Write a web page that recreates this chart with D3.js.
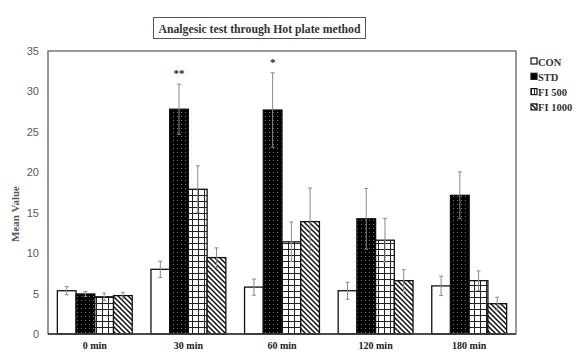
<!DOCTYPE html>
<html>
<head>
<meta charset="utf-8">
<script src="https://cdn.jsdelivr.net/npm/d3@7"></script>
<style>
  body { margin: 0; background: #fff; }
  svg { display: block; }
</style>
</head>
<body>
<div id="chart"></div>
<script>
// data
var times = ["0 min", "30 min", "60 min", "120 min", "180 min"];
var groups = ["CON", "STD", "FI 500", "FI 1000"];
var conMean  = [5.35, 8.0, 5.8, 5.35, 5.95];
var conErr   = [0.5, 1.0, 1.0, 1.05, 1.2];
var stdMean  = [4.95, 27.8, 27.7, 14.25, 17.15];
var stdErr   = [0.3, 3.1, 4.6, 3.75, 2.9];
var fi500Mean = [4.6, 17.9, 11.4, 11.6, 6.6];
var fi500Err  = [0.45, 2.9, 2.45, 2.7, 1.2];
var fi1000Mean = [4.75, 9.45, 13.9, 6.6, 3.75];
var fi1000Err  = [0.4, 1.2, 4.15, 1.35, 0.8];
var yTicks = [0, 5, 10, 15, 20, 25, 30, 35];
var stars = [{ time: "30 min", group: "STD", text: "**" }, { time: "60 min", group: "STD", text: "*" }];

var means = [conMean, stdMean, fi500Mean, fi1000Mean];
var errs = [conErr, stdErr, fi500Err, fi1000Err];

var W = 579, H = 353;
var margin = { top: 51, right: 63, bottom: 19, left: 48 },
    width = W - margin.left - margin.right,
    height = H - margin.top - margin.bottom;

var svg = d3.select("#chart").append("svg")
    .attr("width", W)
    .attr("height", H);

// fill patterns
var defs = svg.append("defs");

var dots = defs.append("pattern").attr("id", "p-std")
    .attr("patternUnits", "userSpaceOnUse").attr("width", 4).attr("height", 4);
dots.append("rect").attr("width", 4).attr("height", 4).attr("fill", "#000");
dots.append("rect").attr("x", 1).attr("y", 1).attr("width", 1).attr("height", 1).attr("fill", "#777");

var grid = defs.append("pattern").attr("id", "p-fi500")
    .attr("patternUnits", "userSpaceOnUse").attr("width", 6).attr("height", 6);
grid.append("rect").attr("width", 6).attr("height", 6).attr("fill", "#fff");
grid.append("path").attr("d", "M0,0.5H6M0.5,0V6").attr("stroke", "#222").attr("stroke-width", 1);

var gridSmall = defs.append("pattern").attr("id", "p-fi500s")
    .attr("patternUnits", "userSpaceOnUse").attr("width", 3).attr("height", 6);
gridSmall.append("rect").attr("width", 3).attr("height", 6).attr("fill", "#fff");
gridSmall.append("path").attr("d", "M0.5,0V6").attr("stroke", "#222").attr("stroke-width", 1);

var hatch = defs.append("pattern").attr("id", "p-fi1000")
    .attr("patternUnits", "userSpaceOnUse").attr("width", 5).attr("height", 5);
hatch.append("rect").attr("width", 5).attr("height", 5).attr("fill", "#fff");
hatch.append("path").attr("d", "M-1,-1L6,6M-1,4L1,6M4,-1L6,1")
    .attr("stroke", "#111").attr("stroke-width", 1.5);

var fills = ["#fff", "url(#p-std)", "url(#p-fi500)", "url(#p-fi1000)"];
var legendFills = ["#fff", "#000", "url(#p-fi500s)", "url(#p-fi1000)"];

// title box
var title = svg.append("g");
title.append("rect").attr("x", 153.5).attr("y", 17.5).attr("width", 212).attr("height", 21)
    .attr("fill", "#fff").attr("stroke", "#555").attr("stroke-width", 1);
title.append("text").attr("x", 259.5).attr("y", 32.5)
    .attr("text-anchor", "middle")
    .attr("textLength", 202).attr("lengthAdjust", "spacingAndGlyphs")
    .style("font-family", "'Liberation Serif', 'Times New Roman', serif")
    .style("font-weight", "bold").style("font-size", "12.5px").style("fill", "#333")
    .text("Analgesic test through Hot plate method");

var g = svg.append("g").attr("transform", "translate(" + margin.left + "," + margin.top + ")");

var x0 = d3.scaleBand().domain(times).range([0, width]).paddingInner(0.2).paddingOuter(0.1);
var x1 = d3.scaleBand().domain(groups).range([0, x0.bandwidth()]);
var y = d3.scaleLinear().domain([0, 35]).range([height, 0]);

// y axis labels
var yAxis = g.append("g").call(d3.axisLeft(y).tickValues(yTicks).tickSize(0).tickPadding(9));
yAxis.select(".domain").remove();
yAxis.selectAll("text")
    .style("font-family", "'Liberation Sans Narrow', 'Liberation Sans', Arial, sans-serif")
    .style("font-size", "11px").style("fill", "#595959");

// x axis labels
var xAxis = g.append("g").attr("transform", "translate(0," + height + ")")
    .call(d3.axisBottom(x0).tickSize(0).tickPadding(8));
xAxis.select(".domain").remove();
xAxis.selectAll("text")
    .style("font-family", "'Liberation Serif', 'Times New Roman', serif")
    .style("font-weight", "bold").style("font-size", "10px").style("fill", "#222");

// bars
var rows = [];
times.forEach(function (t, i) {
    groups.forEach(function (s, j) {
        rows.push({ time: t, group: s, k: j, v: means[j][i], e: errs[j][i] });
    });
});

g.append("g").selectAll("rect")
    .data(rows)
    .enter().append("rect")
    .attr("x", function (d) { return x0(d.time) + x1(d.group); })
    .attr("y", function (d) { return y(d.v); })
    .attr("width", x1.bandwidth())
    .attr("height", function (d) { return height - y(d.v); })
    .attr("fill", function (d) { return fills[d.k]; })
    .attr("stroke", "#111").attr("stroke-width", 1.3);

// error bars
var eb = g.append("g").attr("stroke", "#8a8a8a").attr("stroke-width", 1);
rows.forEach(function (d) {
    var cx = x0(d.time) + x1(d.group) + x1.bandwidth() / 2;
    eb.append("line").attr("x1", cx).attr("x2", cx).attr("y1", y(d.v + d.e)).attr("y2", y(d.v - d.e));
    eb.append("line").attr("x1", cx - 2).attr("x2", cx + 2).attr("y1", y(d.v + d.e)).attr("y2", y(d.v + d.e));
    eb.append("line").attr("x1", cx - 2).attr("x2", cx + 2).attr("y1", y(d.v - d.e)).attr("y2", y(d.v - d.e));
});

// significance marks
stars.forEach(function (s) {
    var j = groups.indexOf(s.group), i = times.indexOf(s.time);
    g.append("text")
        .attr("x", x0(s.time) + x1(s.group) + x1.bandwidth() / 2)
        .attr("y", y(means[j][i] + errs[j][i]) - 7)
        .attr("text-anchor", "middle")
        .style("font-family", "'Liberation Serif', serif").style("font-weight", "bold")
        .style("font-size", "11px").style("fill", "#222")
        .text(s.text);
});

// plot frame
g.append("rect").attr("x", 0).attr("y", 0).attr("width", width).attr("height", height)
    .attr("fill", "none").attr("stroke", "#555").attr("stroke-width", 1.2);
g.append("line").attr("x1", 0).attr("x2", width).attr("y1", height).attr("y2", height)
    .attr("stroke", "#333").attr("stroke-width", 1.5);

// y title
svg.append("text")
    .attr("transform", "translate(19,214) rotate(-90)")
    .attr("text-anchor", "middle")
    .style("font-family", "'Liberation Serif', 'Times New Roman', serif")
    .style("font-weight", "bold").style("font-size", "11px").style("fill", "#555")
    .text("Mean Value");

// legend
var legend = svg.append("g").attr("transform", "translate(531,58)");
groups.forEach(function (s, j) {
    var row = legend.append("g").attr("transform", "translate(0," + (j * 15.3) + ")");
    row.append("rect").attr("x", 0).attr("y", 0).attr("width", 6).attr("height", 6)
        .attr("fill", legendFills[j]).attr("stroke", "#111").attr("stroke-width", 1.2);
    row.append("text").attr("x", 7).attr("y", 7.5)
        .style("font-family", "'Liberation Serif', 'Times New Roman', serif")
        .style("font-weight", "bold").style("font-size", "10.5px").style("fill", "#333")
        .text(s);
});
</script>
</body>
</html>
